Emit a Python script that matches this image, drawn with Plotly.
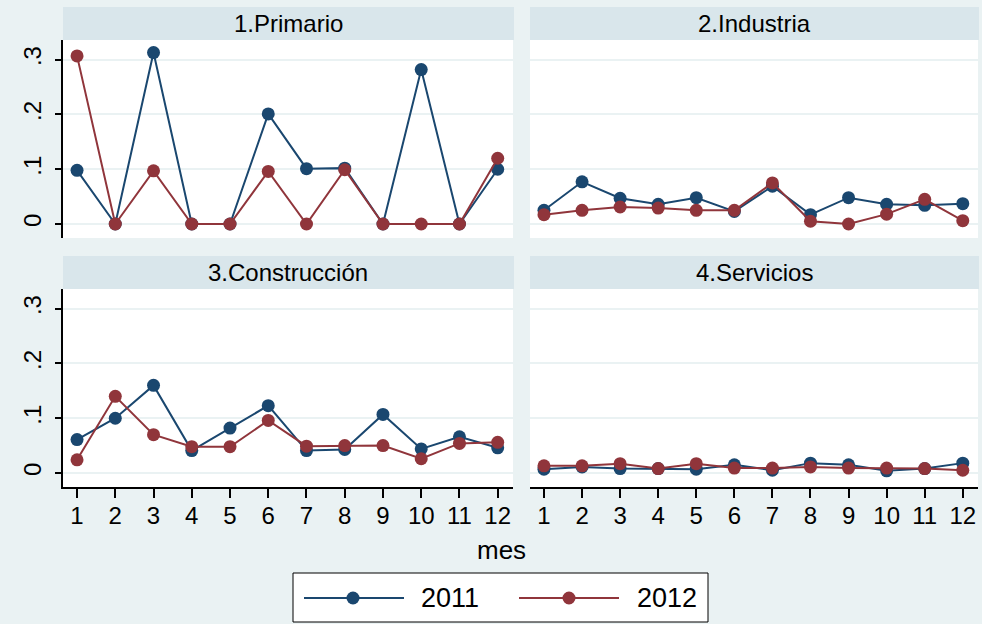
import plotly.graph_objects as go

W, H = 982, 624
months = list(range(1, 13))
panels = ["1.Primario", "2.Industria", "3.Construcción", "4.Servicios"]
years = ["2011", "2012"]

primario_2011 = [0.098, 0.0, 0.313, 0.0, 0.0, 0.201, 0.101, 0.102, 0.0, 0.282, 0.0, 0.100]
primario_2012 = [0.307, 0.0, 0.097, 0.0, 0.0, 0.096, 0.0, 0.099, 0.0, 0.0, 0.0, 0.120]
industria_2011 = [0.025, 0.077, 0.047, 0.036, 0.048, 0.023, 0.069, 0.017, 0.048, 0.036, 0.034, 0.037]
industria_2012 = [0.017, 0.025, 0.031, 0.029, 0.025, 0.025, 0.075, 0.005, 0.0, 0.018, 0.045, 0.006]
construccion_2011 = [0.061, 0.100, 0.160, 0.041, 0.082, 0.123, 0.041, 0.043, 0.107, 0.044, 0.066, 0.046]
construccion_2012 = [0.024, 0.140, 0.070, 0.048, 0.048, 0.096, 0.049, 0.050, 0.050, 0.026, 0.054, 0.056]
servicios_2011 = [0.007, 0.011, 0.008, 0.008, 0.007, 0.015, 0.005, 0.018, 0.015, 0.004, 0.008, 0.018]
servicios_2012 = [0.013, 0.013, 0.017, 0.008, 0.017, 0.009, 0.009, 0.011, 0.009, 0.009, 0.008, 0.005]

series = [
    (primario_2011, primario_2012),
    (industria_2011, industria_2012),
    (construccion_2011, construccion_2012),
    (servicios_2011, servicios_2012),
]
y_ticks = [0, 0.1, 0.2, 0.3]
y_ticktext = ["0", ".1", ".2", ".3"]

NAVY = "#1A476F"
MAROON = "#90353B"
BG = "#EAF2F3"
STRIP = "#D9E6EB"
FONT = "Liberation Sans, Arial, sans-serif"

def px(x):
    return x / W

def py(y):
    return 1 - y / H

# panel boxes in pixels: (x0, x1, y_top, y_bottom)
boxes = [(63, 513, 40, 238), (530, 978, 40, 238), (63, 513, 289, 487), (530, 978, 289, 487)]

fig = go.Figure()
layout = dict(
    width=W, height=H,
    margin=dict(l=0, r=0, t=0, b=0),
    paper_bgcolor=BG, plot_bgcolor="white",
    font=dict(family=FONT, size=24, color="black"),
    showlegend=False,
)
shapes = []
annotations = []
for i, (name, (a, b)) in enumerate(zip(panels, series)):
    k = i + 1
    xa = "x" if k == 1 else f"x{k}"
    ya = "y" if k == 1 else f"y{k}"
    for vals, col, yr in ((a, NAVY, years[0]), (b, MAROON, years[1])):
        fig.add_trace(go.Scatter(
            x=months, y=vals, mode="lines+markers", name=yr,
            line=dict(color=col, width=2),
            marker=dict(color=col, size=13, line=dict(width=0)),
            xaxis=xa, yaxis=ya, cliponaxis=False,
        ))
    x0, x1, yt, yb = boxes[i]
    bottom = i >= 2
    left = i % 2 == 0
    layout[f"xaxis{'' if k == 1 else k}"] = dict(
        domain=[px(x0), px(x1)], anchor=ya, range=[0.633, 12.4],
        tickmode="array", tickvals=months, ticktext=[str(m) for m in months],
        showticklabels=bottom, ticks="outside" if bottom else "",
        ticklen=9, tickwidth=1.5, tickcolor="black",
        ticklabelstandoff=-3,
        showline=bottom, linecolor="black", linewidth=1.5,
        showgrid=False, zeroline=False,
        tickfont=dict(size=24, family=FONT),
    )
    layout[f"yaxis{'' if k == 1 else k}"] = dict(
        domain=[py(yb), py(yt)], anchor=xa, range=[-0.0256, 0.336],
        tickmode="array", tickvals=y_ticks, ticktext=y_ticktext,
        showticklabels=left, ticks="outside" if left else "",
        ticklen=6, tickwidth=1.5, tickcolor="black", tickangle=-90,
        ticklabelstandoff=5,
        showline=left, linecolor="black", linewidth=1.5,
        showgrid=True, gridcolor=BG, gridwidth=2, zeroline=False,
        tickfont=dict(size=24, family=FONT),
    )
    # strip header
    sy0 = yt - 33
    shapes.append(dict(type="rect", xref="paper", yref="paper",
                       x0=px(x0), x1=px(x1 + 1), y0=py(yt), y1=py(sy0),
                       fillcolor=STRIP, line=dict(width=0), layer="below"))
    annotations.append(dict(text=name, xref="paper", yref="paper",
                            x=px((x0 + x1) / 2), y=py(sy0 + 16.5),
                            xanchor="center", yanchor="middle", showarrow=False,
                            font=dict(size=24, family=FONT)))

# x-axis title
annotations.append(dict(text="mes", xref="paper", yref="paper", x=px(501), y=py(550),
                        xanchor="center", yanchor="middle", showarrow=False,
                        font=dict(size=26, family=FONT)))

# legend drawn in paper coordinates
shapes.append(dict(type="rect", xref="paper", yref="paper",
                   x0=px(293), x1=px(708), y0=py(622), y1=py(573),
                   fillcolor="white", line=dict(color="black", width=1)))
for (lx0, lx1, mx, tx), col, yr in (((304, 404, 353, 419), NAVY, years[0]),
                                    ((519, 619, 569, 635), MAROON, years[1])):
    shapes.append(dict(type="line", xref="paper", yref="paper",
                       x0=px(lx0), x1=px(lx1), y0=py(598), y1=py(598),
                       line=dict(color=col, width=2)))
    shapes.append(dict(type="circle", xref="paper", yref="paper",
                       x0=px(mx - 6.5), x1=px(mx + 6.5), y0=py(604.5), y1=py(591.5),
                       fillcolor=col, line=dict(width=0)))
    annotations.append(dict(text=yr, xref="paper", yref="paper", x=px(tx), y=py(598),
                            xanchor="left", yanchor="middle", showarrow=False,
                            font=dict(size=27, family=FONT)))

layout["shapes"] = shapes
layout["annotations"] = annotations
fig.update_layout(**layout)
fig.write_html(
    "out.html",
    config={"displayModeBar": False},
    post_script="document.body.style.margin='0';document.body.style.overflow='hidden';",
)
